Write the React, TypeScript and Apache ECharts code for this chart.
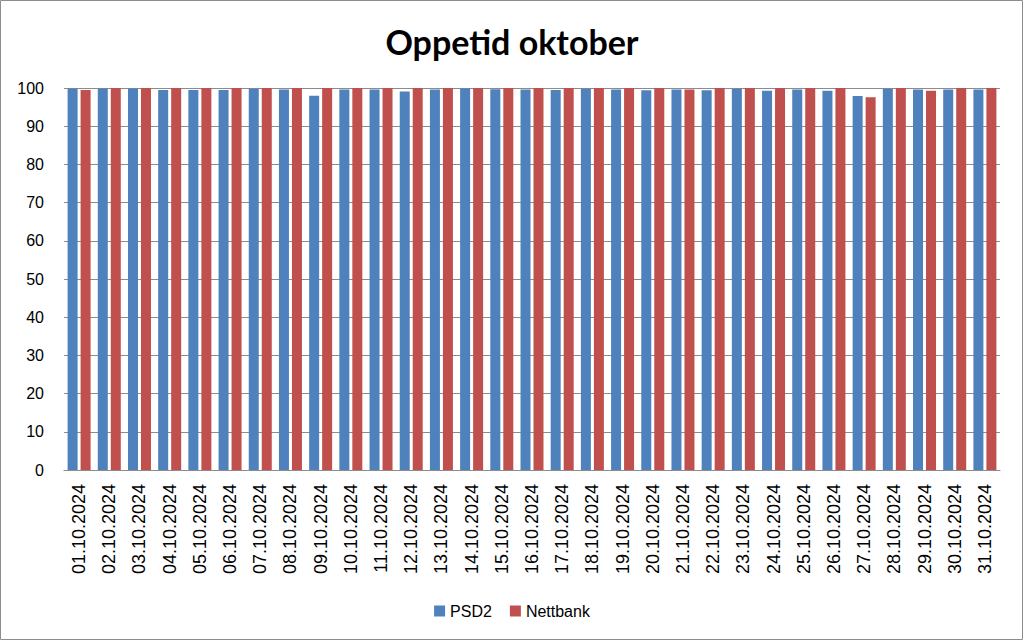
import React, { useEffect, useRef } from "react";
import * as echarts from "echarts";

const categories = [
  "01.10.2024","02.10.2024","03.10.2024","04.10.2024","05.10.2024","06.10.2024","07.10.2024","08.10.2024",
  "09.10.2024","10.10.2024","11.10.2024","12.10.2024","13.10.2024","14.10.2024","15.10.2024","16.10.2024",
  "17.10.2024","18.10.2024","19.10.2024","20.10.2024","21.10.2024","22.10.2024","23.10.2024","24.10.2024",
  "25.10.2024","26.10.2024","27.10.2024","28.10.2024","29.10.2024","30.10.2024","31.10.2024",
];

const psd2 = [
  99.9, 99.9, 99.9, 99.5, 99.5, 99.5, 99.8, 99.6, 98.0, 99.6, 99.6, 99.1, 99.6, 99.9, 99.7, 99.6,
  99.5, 99.8, 99.6, 99.4, 99.6, 99.4, 99.8, 99.3, 99.6, 99.3, 97.9, 99.8, 99.6, 99.6, 99.6,
];

const nettbank = [
  99.5, 100, 100, 100, 100, 100, 100, 100, 100, 100, 100, 100, 100, 100, 100, 100,
  100, 100, 100, 100, 99.6, 100, 100, 100, 100, 100, 97.6, 100, 99.3, 100, 100,
];

const yTicks = { min: 0, max: 100, interval: 10 };

export default function App() {
  const ref = useRef<HTMLDivElement>(null);
  useEffect(() => {
    if (!ref.current) return;
    const chart = echarts.init(ref.current, null, { renderer: "svg" });
    chart.setOption({
      animation: false,
      backgroundColor: "#ffffff",
      title: {
        text: "Oppetid oktober",
        left: "center",
        top: 19,
        textStyle: { fontFamily: "Lato", fontWeight: "bold", fontSize: 34, color: "#000" },
      },
      legend: {
        bottom: 17,
        left: "center",
        itemWidth: 11,
        itemHeight: 11,
        itemGap: 18,
        icon: "rect",
        textStyle: { fontFamily: "Liberation Sans", fontSize: 16, color: "#000" },
        data: ["PSD2", "Nettbank"],
      },
      grid: { left: 64, right: 24, top: 88, bottom: 171, containLabel: false },
      xAxis: {
        type: "category",
        data: categories,
        axisLine: { lineStyle: { color: "#8c8c8c" } },
        axisTick: { show: false },
        axisLabel: {
          rotate: 90,
          interval: 0,
          margin: 14,
          fontFamily: "Liberation Sans",
          fontSize: 18,
          color: "#000",
        },
      },
      yAxis: {
        type: "value",
        min: yTicks.min,
        max: yTicks.max,
        interval: yTicks.interval,
        axisLine: { show: false },
        axisTick: { show: false },
        splitLine: { lineStyle: { color: "#8c8c8c" } },
        axisLabel: { fontFamily: "Liberation Sans", fontSize: 16, color: "#000", margin: 20 },
      },
      series: [
        {
          name: "PSD2",
          type: "bar",
          data: psd2,
          barWidth: 10,
          barGap: "30%",
          itemStyle: { color: "#4f81bd" },
        },
        {
          name: "Nettbank",
          type: "bar",
          data: nettbank,
          barWidth: 10,
          barGap: "30%",
          itemStyle: { color: "#c0504d" },
        },
      ],
      graphic: [
        {
          type: "rect",
          shape: { x: 0.5, y: 0.5, width: 1022, height: 639 },
          style: { fill: "none", stroke: "#8c8c8c", lineWidth: 1 },
          silent: true,
        },
      ],
    });
    return () => chart.dispose();
  }, []);
  return (
    <div
      ref={ref}
      style={{ position: "fixed", left: 0, top: 0, width: 1024, height: 641 }}
    />
  );
}
